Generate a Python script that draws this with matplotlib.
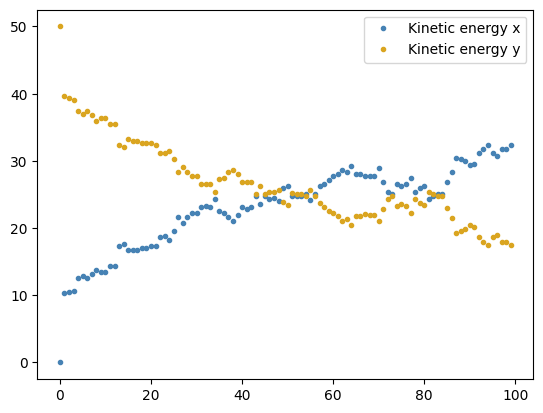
import numpy as np
import matplotlib
matplotlib.use("Agg")
import matplotlib.pyplot as plt

steps = np.arange(100)

ke_x = [0.0, 10.3, 10.5, 10.7, 12.5, 12.8, 12.5, 13.1, 13.8, 13.4,
        13.5, 14.3, 14.3, 17.4, 17.7, 16.7, 16.8, 16.8, 17.1, 17.1,
        17.3, 17.4, 18.6, 18.8, 18.3, 19.5, 21.6, 20.7, 21.6, 22.2,
        22.2, 23.2, 23.3, 23.2, 24.4, 22.6, 22.3, 21.6, 21.1, 21.9,
        23.1, 22.9, 23.1, 24.8, 23.6, 24.8, 24.4, 24.5, 24.1, 25.9,
        26.3, 24.7, 24.7, 24.7, 25.0, 24.2, 25.1, 26.2, 26.6, 27.2,
        27.7, 28.1, 28.7, 28.4, 29.3, 28.0, 28.0, 27.7, 27.8, 27.8,
        28.9, 26.9, 25.4, 25.0, 26.5, 26.2, 26.5, 27.5, 25.4, 26.0,
        26.3, 24.4, 24.8, 25.1, 25.1, 26.8, 28.3, 30.5, 30.3, 30.0,
        29.4, 29.6, 31.1, 31.8, 32.3, 31.1, 30.8, 31.8, 31.8, 32.3]

ke_y = [50.0, 39.6, 39.3, 39.1, 37.4, 37.0, 37.4, 36.8, 36.0, 36.4,
        36.4, 35.5, 35.5, 32.4, 32.1, 33.2, 33.0, 33.0, 32.7, 32.7,
        32.6, 32.4, 31.2, 31.1, 31.5, 30.3, 28.3, 29.1, 28.3, 27.8,
        27.7, 26.6, 26.5, 26.6, 25.4, 27.3, 27.5, 28.3, 28.7, 28.0,
        26.8, 26.9, 26.8, 25.0, 26.2, 25.0, 25.4, 25.3, 25.7, 23.9,
        23.5, 25.2, 25.1, 25.1, 24.8, 25.6, 24.7, 23.7, 23.2, 22.6,
        22.2, 21.8, 21.1, 21.4, 20.5, 21.8, 21.8, 22.1, 22.0, 22.0,
        21.0, 22.9, 24.4, 24.8, 23.3, 23.6, 23.3, 22.3, 24.4, 23.8,
        23.5, 25.4, 25.0, 24.7, 24.7, 23.0, 21.5, 19.3, 19.5, 19.8,
        20.4, 20.2, 18.7, 18.0, 17.5, 18.7, 19.0, 18.0, 18.0, 17.5]

fig, ax = plt.subplots(figsize=(6.4, 4.8))
ax.plot(steps, ke_x, '.', color='steelblue', label='Kinetic energy x')
ax.plot(steps, ke_y, '.', color='goldenrod', label='Kinetic energy y')
ax.legend(loc='upper right')

fig.savefig('out.png', dpi=100, bbox_inches='tight')
